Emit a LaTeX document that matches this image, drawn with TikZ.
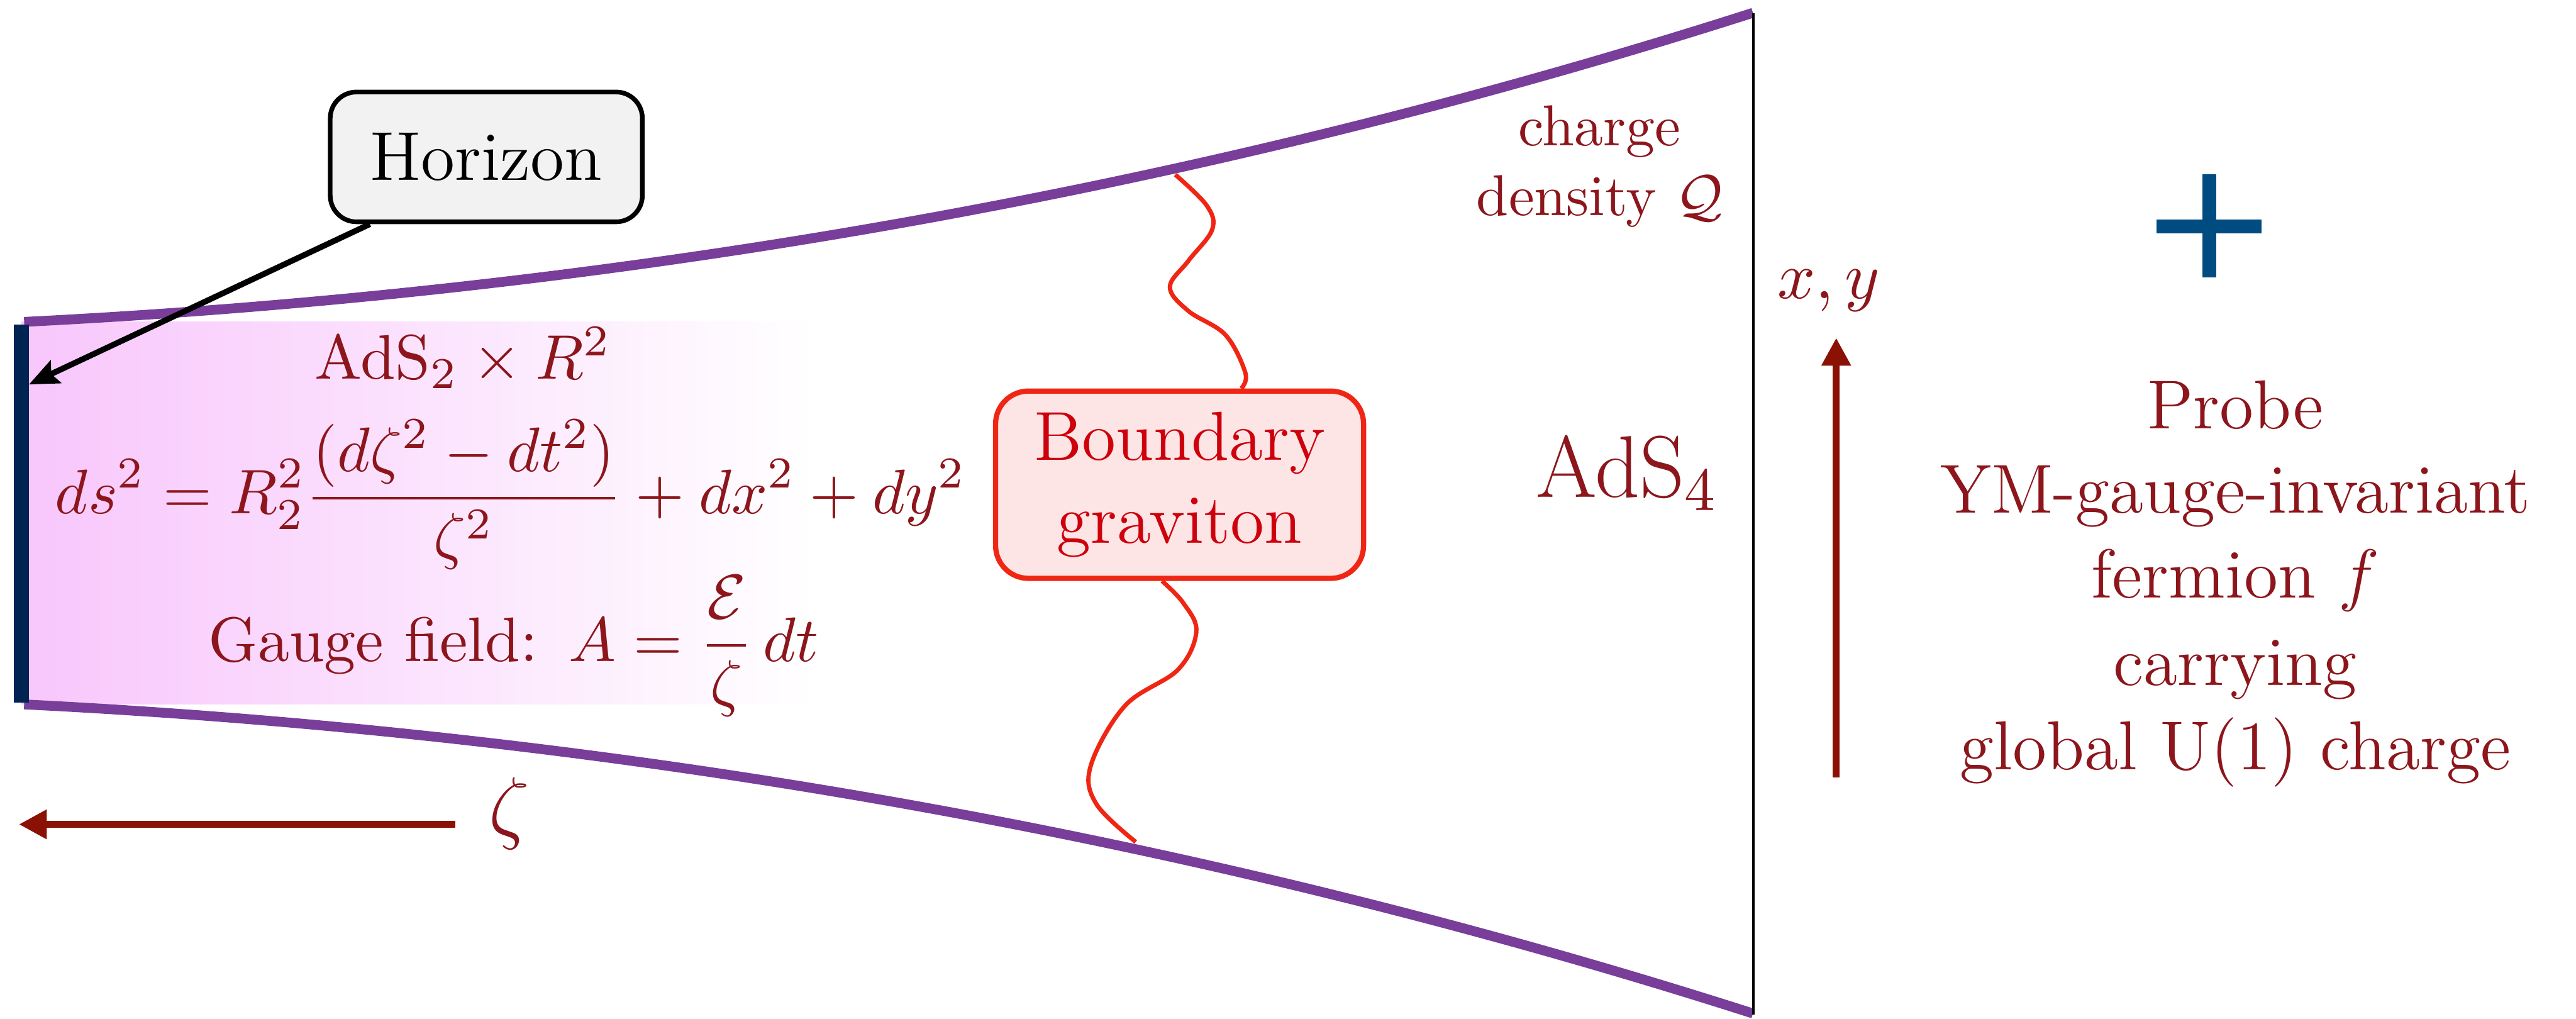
\RequirePackage{fix-cm}
\documentclass[tikz,border=0pt]{standalone}
\usepackage{amsmath}
\usepackage[no-math]{fontspec}
\usetikzlibrary{arrows.meta,calc}
\definecolor{dred}{RGB}{140,22,28}
\definecolor{arrred}{RGB}{138,17,3}
\definecolor{purp}{RGB}{120,62,154}
\definecolor{navy}{RGB}{0,36,82}
\definecolor{pinkL}{RGB}{248,198,252}
\definecolor{gred}{RGB}{240,38,20}
\definecolor{gfill}{RGB}{253,228,229}
\definecolor{gtext}{RGB}{205,0,12}
\definecolor{plusblue}{RGB}{0,76,128}
\definecolor{hgray}{RGB}{242,242,242}
\tikzset{
  lbl/.style={text=dred, inner sep=0pt, font=\fontsize{12}{14.5}\selectfont},
  eqlbl/.style={text=dred, inner sep=0pt, font=\fontsize{10.9}{13}\selectfont},
  smalllbl/.style={text=dred, inner sep=0pt, font=\fontsize{10}{12}\selectfont},
  horizonbox/.style={draw=black, line width=0.8pt, fill=hgray, rounded corners=1.6mm,
    minimum width=19mm, minimum height=7.9mm, inner sep=0pt, font=\fontsize{12}{14.5}\selectfont},
  gravbox/.style={draw=gred, line width=0.9pt, fill=gfill, rounded corners=2mm,
    minimum width=22.4mm, minimum height=11.4mm, inner sep=0pt, align=center,
    text=gtext, font=\fontsize{12}{14.4}\selectfont},
  wall/.style={purp, line width=1.7pt},
  wave/.style={gred, line width=0.75pt},
  axisarrow/.style={arrred, line width=1.2pt, -{Triangle[length=1.7mm,width=1.7mm]}},
  harrow/.style={black, line width=1pt, -{Stealth[length=1.8mm,width=1.5mm,inset=0.3mm]}},
  plusline/.style={plusblue, line width=0.87mm},
  horizonbar/.style={fill=navy, draw=none, inner sep=0pt, minimum width=0.92mm, minimum height=23mm},
}
\begin{document}
\begin{tikzpicture}[x=0.1mm,y=-0.1mm]
\useasboundingbox (0,0) rectangle (1568,619.9);

% pink AdS2 region
\shade[left color=pinkL, right color=white, draw=none] (13,195.9) rectangle (495,428.7);

% boundary graviton box
\node[gravbox] (grav) at (718,295) {Boundary\\graviton};
\coordinate (gtop) at (715.4,106.3);
\coordinate (gbot) at (691.3,512.4);
\coordinate (gin) at ($(grav.north)+(37.5,0)$);
\coordinate (gout) at ($(grav.south)+(-10.7,0)$);
\draw[wave] plot[smooth, tension=0.6] coordinates {(gtop) (734.6,125.2) (737.8,139.8) (723.4,158.7) (712.1,174.7) (723.4,189.3) (745.9,203.8) (758.1,227.1) (gin)};
\draw[wave] plot[smooth, tension=0.6] coordinates {(gout) (720.2,366.9) (728.2,384.3) (717,407.6) (684.9,429.4) (664,465.8) (667.2,489.1) (gbot)};

% AdS4 walls
\draw[wall] (14.7,195.9) .. controls (414.7,175.9) and (767,103.8) .. (1067,7.8);
\draw[wall] (14.7,428.7) .. controls (414.7,448.7) and (767,520.8) .. (1067,616.8);
\draw[black, line width=0.5pt] (1067.2,7.9) -- (1067.2,617.3);

% horizon
\node[horizonbar] (bar) at (13,312.7) {};
\node[horizonbox] (horizon) at (296,95.5) {Horizon};
\coordinate (htip) at (17.6,234);
\draw[harrow] (horizon.210.9) -- (htip);

% texts in the AdS2 region
\node[eqlbl, anchor=base] (adsr) at (282,230.5) {AdS$_2\times R^2$};
\node[eqlbl, anchor=base] (metric) at (310.9,312.7) {$\displaystyle ds^2=R_2^2\frac{(d\zeta^2-dt^2)}{\zeta^2}+dx^2+dy^2$};
\node[eqlbl, anchor=base] (gauge) at (312.7,402.4) {Gauge field:\ \,$\displaystyle A=\frac{\mathcal{E}}{\zeta}\,dt$};

% zeta axis
\coordinate (zstart) at (277,501.7);
\coordinate (zend) at (11.5,501.7);
\draw[axisarrow] (zstart) -- (zend);
\node[text=dred, inner sep=0pt, font=\fontsize{14}{16}\selectfont] (zeta) at (310,495.3) {$\zeta$};

% labels near boundary
\node[smalllbl, anchor=base] (charge1) at (973.5,88.6) {charge};
\node[smalllbl, anchor=base] (charge2) at (973.8,131.1) {density $\mathcal{Q}$};
\node[text=dred, inner sep=0pt, anchor=base, font=\fontsize{15.2}{18}\selectfont] (ads4) at (990.5,302.8) {AdS$_4$};

% x,y axis
\coordinate (xyb) at (1117.7,473);
\coordinate (xyt) at (1117.7,205.6);
\draw[axisarrow] (xyb) -- (xyt);
\node[text=dred, inner sep=0pt, anchor=base, font=\fontsize{11.5}{14}\selectfont] (xy) at (1113,181.7) {$x,y$};

% plus
\draw[plusline] (1312.8,137.8) -- (1376.6,137.8);
\draw[plusline] (1344.8,106) -- (1344.8,169);

% probe text
\node[lbl, anchor=base] (p1) at (1360.6,261) {Probe};
\node[lbl, anchor=base] (p2) at (1360.6,312.3) {YM-gauge-invariant};
\node[lbl, anchor=base] (p3) at (1360.6,363.7) {fermion $f$};
\node[lbl, anchor=base] (p4) at (1360.6,417) {carrying};
\node[lbl, anchor=base] (p5) at (1360.6,468.4) {global U(1) charge};
\end{tikzpicture}
\end{document}
